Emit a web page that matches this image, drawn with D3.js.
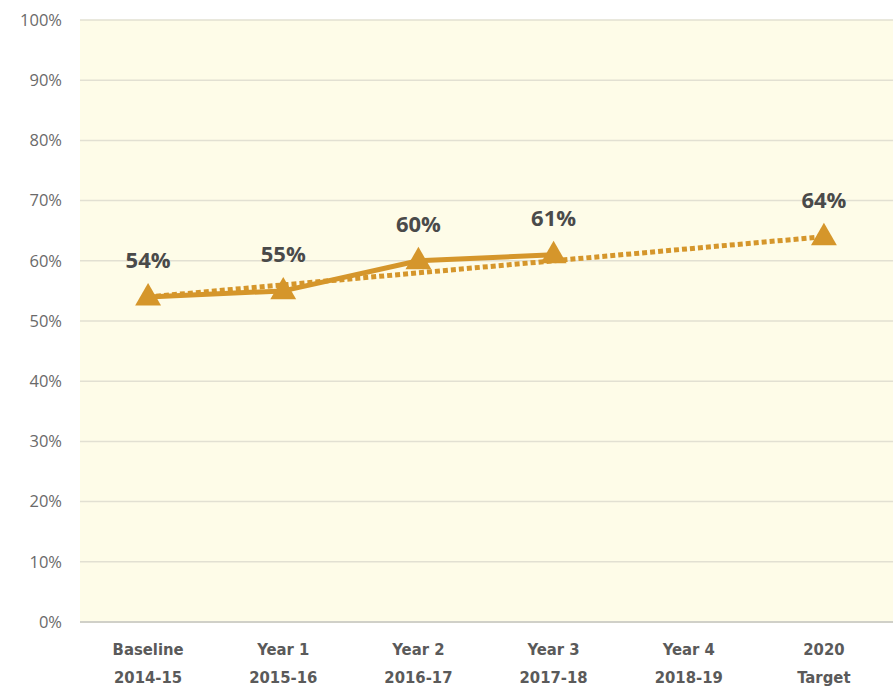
<!DOCTYPE html>
<html><head><meta charset="utf-8">
<script src="https://cdn.jsdelivr.net/npm/d3@7"></script>
<style>
html,body{margin:0;padding:0;background:#fff;}
svg{display:block;}
</style></head>
<body>
<svg id="chart" width="893" height="687"></svg>
<script>
const categories = [["Baseline","2014-15"],["Year 1","2015-16"],["Year 2","2016-17"],["Year 3","2017-18"],["Year 4","2018-19"],["2020","Target"]];
const actualValues = [54, 55, 60, 61];
const targetValues = [54, 56, 58, 60, 62, 64];
const yTicks = [0,10,20,30,40,50,60,70,80,90,100];
const labelValues = [54, 55, 60, 61, null, 64];

const svg = d3.select("#chart");
const m = {left: 80, right: 0, top: 20, bottom: 65};
const W = 893, H = 687;
const x = d3.scaleBand().domain(d3.range(categories.length)).range([m.left + 0.5, W - 1.5]);
const y = d3.scaleLinear().domain([0, 100]).range([H - m.bottom, m.top]);
const cx = i => x(i) + x.bandwidth() / 2;

const col = "#D5962B";

svg.append("rect").attr("x", m.left).attr("y", m.top).attr("width", W - m.left).attr("height", y(0) - m.top).attr("fill", "#FEFCE8");

const yAxis = d3.axisLeft(y).tickValues(yTicks).tickFormat(d => d + "%").tickSize(0).tickPadding(18);
const ga = svg.append("g").attr("transform", `translate(${m.left},0)`).call(yAxis);
ga.select(".domain").remove();
ga.selectAll("text").attr("fill", "#6a6a6a").style("font-family", "'Open Sans', sans-serif").style("font-size", "16.5px");

svg.append("g").selectAll("line").data(yTicks).join("line")
  .attr("x1", m.left).attr("x2", W).attr("y1", d => y(d)).attr("y2", d => y(d))
  .attr("stroke", d => d === 0 ? "#d0d0c8" : "#e2e0d2").attr("stroke-width", d => d === 0 ? 2 : 1.5);

const xAxis = d3.axisBottom(x).tickSize(0).tickFormat(() => "");
const gx = svg.append("g").attr("transform", `translate(0,${y(0)})`).call(xAxis);
gx.select(".domain").remove();
gx.selectAll(".tick").each(function(i) {
  const t = d3.select(this).append("text").attr("fill", "#5a5a5a")
    .style("font-family", "'Liberation Sans Narrow', 'DejaVu Sans Condensed', sans-serif")
    .style("font-weight", "bold").style("font-size", "16.5px").attr("text-anchor", "middle");
  t.append("tspan").attr("x", 0).attr("y", 33).text(categories[i][0]);
  t.append("tspan").attr("x", 0).attr("y", 61).text(categories[i][1]);
});

const line = d3.line().x((d, i) => cx(i)).y(d => y(d));
svg.append("path").datum(targetValues).attr("d", line).attr("fill", "none")
  .attr("stroke", col).attr("stroke-width", 5).attr("stroke-dasharray", "5,3");
svg.append("path").datum(actualValues).attr("d", line).attr("fill", "none")
  .attr("stroke", col).attr("stroke-width", 5).attr("stroke-linejoin", "round");

const tri = d3.symbol().type(d3.symbolTriangle).size(290);
const markerPts = actualValues.map((v, i) => ({i, v})).concat([{i: 5, v: targetValues[5]}]);
svg.append("g").selectAll("path").data(markerPts).join("path")
  .attr("d", tri).attr("transform", d => `translate(${cx(d.i)},${y(d.v) + 1})`).attr("fill", col);

svg.append("g").selectAll("text").data(labelValues.map((v, i) => ({i, v})).filter(d => d.v !== null)).join("text")
  .attr("x", d => cx(d.i)).attr("y", d => y(d.v) - 29)
  .attr("text-anchor", "middle").attr("fill", "#4a4a4a")
  .style("font-family", "'Open Sans', sans-serif").style("font-weight", "bold").style("font-size", "22px")
  .text(d => d.v + "%");
</script>
</body></html>
